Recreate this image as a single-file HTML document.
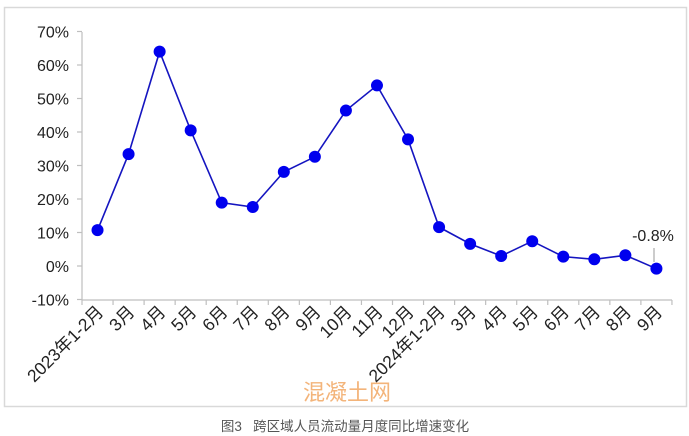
<!DOCTYPE html>
<html><head><meta charset="utf-8"><style>
html,body{margin:0;padding:0;background:#fff;}
svg{display:block;font-family:"Liberation Sans","Noto Sans CJK SC",sans-serif;}
</style></head><body>
<svg width="689" height="436" viewBox="0 0 689 436" xmlns="http://www.w3.org/2000/svg">
<rect x="4.5" y="7.5" width="682" height="399" fill="#fff" stroke="#d9d9d9" stroke-width="1.5"/>
<g stroke="#bfbfbf" stroke-width="1.2" fill="none">
<line x1="82" y1="32" x2="82" y2="300"/>
<line x1="82" y1="300" x2="672" y2="300"/>
</g>
<g id="ticks" stroke="#bfbfbf" stroke-width="1.2"></g>
<g font-size="16" fill="#222" text-anchor="end" id="ylab"></g>
<g font-size="17.5" fill="#222" text-anchor="end" id="xlab"></g>
<polyline id="line" fill="none" stroke="#1515c0" stroke-width="1.6"/>
<g id="pts" fill="#0000ee"></g>
<line x1="654" y1="248" x2="654" y2="262" stroke="#999" stroke-width="1"/>
<text x="653" y="241" font-size="16" fill="#222" text-anchor="middle">-0.8%</text>
<text x="347" y="400" font-size="22" fill="#f2a763" text-anchor="middle" font-family="'Noto Sans CJK SC',sans-serif" opacity="0.85">混凝土网</text>
<text x="345" y="431" font-size="13.5" fill="#555" text-anchor="middle">图3&#160;&#160;&#160;跨区域人员流动量月度同比增速变化</text>
</svg>
<script>
var ns="http://www.w3.org/2000/svg";
var vals=[10.7,33.4,64,40.5,18.9,17.6,28.1,32.6,46.4,53.9,37.8,11.6,6.6,3.0,7.4,2.8,2.0,3.2,-0.8];
var labs=["2023年1-2月","3月","4月","5月","6月","7月","8月","9月","10月","11月","12月","2024年1-2月","3月","4月","5月","6月","7月","8月","9月"];
var x0=82,w=31.05;function Y(v){return 266-v*3.35;}
var t=document.getElementById("ticks"),yl=document.getElementById("ylab"),xl=document.getElementById("xlab");
for(var v=-10;v<=70;v+=10){var l=document.createElementNS(ns,"line");l.setAttribute("x1",77);l.setAttribute("x2",82);l.setAttribute("y1",Y(v));l.setAttribute("y2",Y(v));t.appendChild(l);
var tx=document.createElementNS(ns,"text");tx.setAttribute("x",69);tx.setAttribute("y",Y(v)+6);tx.textContent=v+"%";yl.appendChild(tx);}
for(var i=0;i<=19;i++){var l=document.createElementNS(ns,"line");l.setAttribute("x1",x0+i*w);l.setAttribute("x2",x0+i*w);l.setAttribute("y1",300);l.setAttribute("y2",305);t.appendChild(l);}
var pts=[];
for(var i=0;i<19;i++){var x=x0+(i+0.5)*w,y=Y(vals[i]);pts.push(x+","+y);
var c=document.createElementNS(ns,"circle");c.setAttribute("cx",x);c.setAttribute("cy",y);c.setAttribute("r",6);document.getElementById("pts").appendChild(c);
var tx=document.createElementNS(ns,"text");tx.setAttribute("transform","translate("+(x+7)+",313) rotate(-45)");tx.textContent=labs[i];xl.appendChild(tx);}
document.getElementById("line").setAttribute("points",pts.join(" "));
</script>
</body></html>
